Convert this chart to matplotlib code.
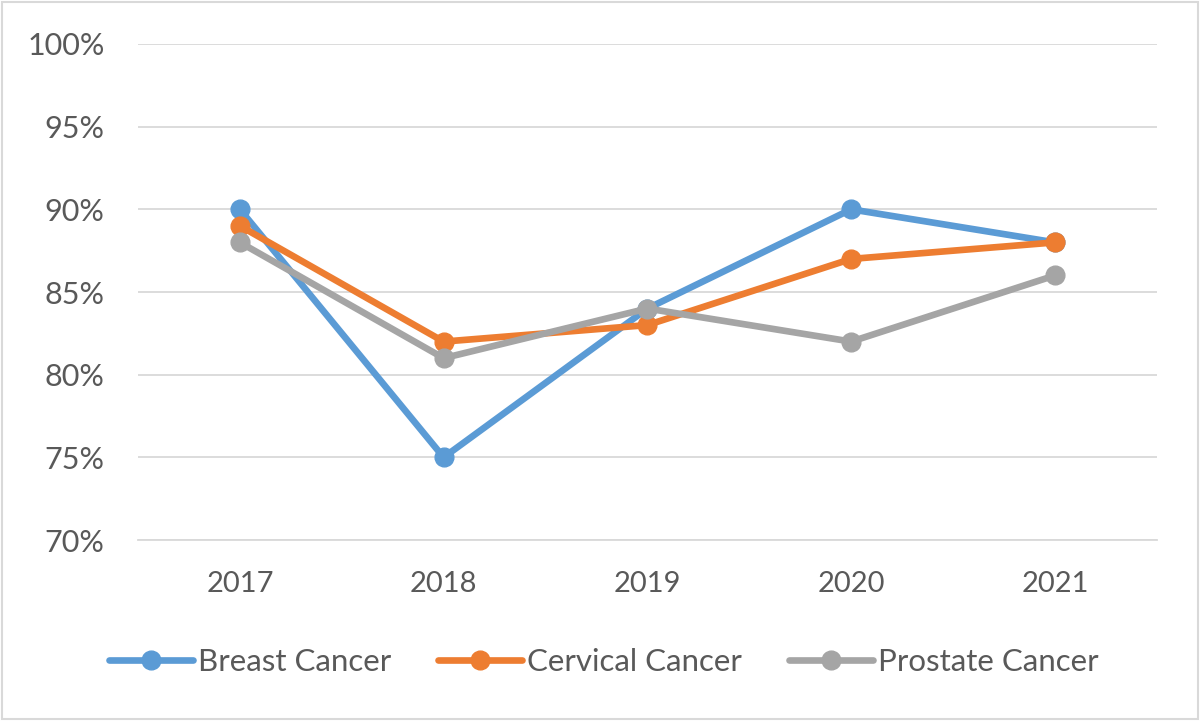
import matplotlib
matplotlib.use("Agg")
import matplotlib.pyplot as plt
from matplotlib.patches import Rectangle
from matplotlib.ticker import FuncFormatter

years = ["2017", "2018", "2019", "2020", "2021"]
breast = [90, 75, 84, 90, 88]
cervical = [89, 82, 83, 87, 88]
prostate = [88, 81, 84, 82, 86]

BLUE = "#5B9BD5"; ORANGE = "#ED7D31"; GREY = "#A5A5A5"; TXT = "#595959"
plt.rcParams.update({"font.family": ["Lato", "DejaVu Sans"], "text.color": TXT})

fig = plt.figure(figsize=(12, 7.21), dpi=100)
ax = fig.add_axes([0.115, 0.251, 0.849, 0.688])
x = range(len(years))
for vals, c, lab in [(breast, BLUE, "Breast Cancer"),
                     (cervical, ORANGE, "Cervical Cancer"),
                     (prostate, GREY, "Prostate Cancer")]:
    ax.plot(x, vals, color=c, lw=4.8, marker="o", ms=13.5, label=lab,
            solid_capstyle="round", solid_joinstyle="round", zorder=3)

ax.set_xlim(-0.5, 4.5)
ax.set_ylim(70, 100)
ax.set_yticks(range(70, 101, 5))
ax.yaxis.set_major_formatter(FuncFormatter(lambda v, p: f"{v:.0f}%"))
ax.set_xticks(list(x))
ax.set_xticklabels(years)
ax.tick_params(length=0, labelsize=21, colors=TXT, pad=22)
ax.tick_params(axis="y", labelsize=22, pad=24)
ax.grid(axis="y", color="#D9D9D9", lw=1.3)
for s in ax.spines.values():
    s.set_visible(False)
ax.spines["bottom"].set_visible(True)
ax.spines["bottom"].set_color("#D9D9D9")
ax.spines["bottom"].set_linewidth(1.3)

fig.legend(loc="center", bbox_to_anchor=(0.503, 0.082), ncol=3, frameon=False,
           fontsize=22.5, handlelength=2.7, handletextpad=0.15, columnspacing=1.5)
fig.patches.append(Rectangle((0.002, 0.003), 0.996, 0.994, transform=fig.transFigure,
                             fill=False, ec="#D9D9D9", lw=1.5))
fig.savefig("out.png", dpi=100, facecolor="white")
